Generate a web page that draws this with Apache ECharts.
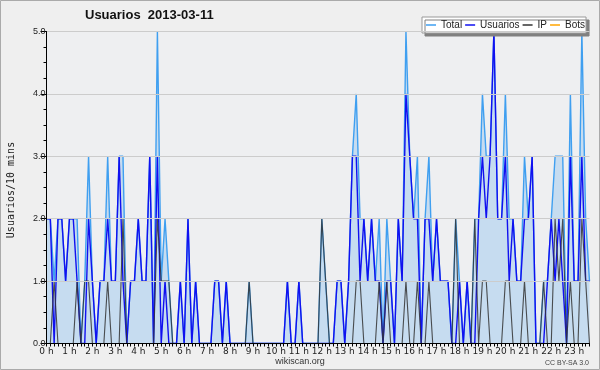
<!DOCTYPE html>
<html><head><meta charset="utf-8">
<script src="https://cdn.jsdelivr.net/npm/echarts@6/dist/echarts.min.js"></script>
<style>html,body{margin:0;padding:0;background:#efefef}#c{width:600px;height:370px}</style>
</head><body><div id="c"></div>
<script>
const hourLabels = ['0 h','1 h','2 h','3 h','4 h','5 h','6 h','7 h','8 h','9 h','10 h','11 h',
  '12 h','13 h','14 h','15 h','16 h','17 h','18 h','19 h','20 h','21 h','22 h','23 h'];
const yTicks = ['0.0','1.0','2.0','3.0','4.0','5.0'];
const seriesNames = ['Total','Usuarios','IP','Bots'];

const total = [
  2,2,1,2,2,1,2,2,2,0, 1,3,1,0,1,1,3,1,1,3, 3,0,1,1,2,1,1,3,0,5,
  1,2,1,0,0,1,0,2,0,1, 0,0,0,0,1,1,0,1,0,0, 0,0,0,1,0,0,0,0,0,0,
  0,0,0,1,0,0,1,0,0,0, 0,0,2,1,0,0,1,1,0,1, 3,4,2,2,1,2,1,2,0,2,
  1,0,2,1,5,3,2,3,0,2, 3,1,2,1,1,1,0,2,1,0, 1,0,2,2,4,3,3,5,2,2,
  4,2,2,1,1,3,2,3,0,0, 1,1,2,3,3,3,0,4,1,1, 5,2,1];
const usuarios = [
  2,2,0,2,2,1,2,2,1,0, 0,2,1,0,1,1,2,1,1,3, 1,0,1,1,2,1,1,3,0,3,
  0,1,0,0,0,1,0,2,0,1, 0,0,0,0,1,1,0,1,0,0, 0,0,0,0,0,0,0,0,0,0,
  0,0,0,1,0,0,1,0,0,0, 0,0,0,0,0,0,1,1,0,1, 3,3,1,2,1,2,1,1,0,1,
  1,0,2,1,4,3,2,2,0,2, 2,1,2,1,1,1,0,0,1,0, 1,0,0,2,3,2,3,5,2,2,
  3,1,2,1,1,2,2,3,0,0, 0,1,2,1,2,1,0,3,1,1, 3,1,1];
const ip = [
  0,0,1,0,0,0,0,0,1,0, 1,1,0,0,0,0,1,0,0,0, 2,0,0,0,0,0,0,0,0,2,
  1,1,1,0,0,0,0,0,0,0, 0,0,0,0,0,0,0,0,0,0, 0,0,0,1,0,0,0,0,0,0,
  0,0,0,0,0,0,0,0,0,0, 0,0,2,1,0,0,0,0,0,0, 0,1,1,0,0,0,0,1,0,1,
  0,0,0,0,1,0,0,1,0,0, 1,0,0,0,0,0,0,2,0,0, 0,0,2,0,1,1,0,0,0,0,
  1,1,0,0,0,1,0,0,0,0, 1,0,0,2,1,2,0,1,0,0, 2,1,0];
const bots = [
  0,0,0,0,0,0,0,0,0,0, 0,0,0,0,0,0,0,0,0,0, 0,0,0,0,0,0,0,0,0,0,
  0,0,0,0,0,0,0,0,0,0, 0,0,0,0,0,0,0,0,0,0, 0,0,0,0,0,0,0,0,0,0,
  0,0,0,0,0,0,0,0,0,0, 0,0,0,0,0,0,0,0,0,0, 0,0,0,0,0,0,0,0,0,0,
  0,0,0,0,0,0,0,0,0,0, 0,0,0,0,0,0,0,0,0,0, 0,0,0,0,0,0,0,0,0,0,
  0,0,0,0,0,0,0,0,0,0, 0,0,0,0,0,0,0,0,0,0, 0,0,0];

// 10-minute slots (categories)
const slots = [];
for (let k = 0; k < total.length; k++) {
  const h = Math.floor(k / 6), m = (k % 6) * 10;
  slots.push(h + ':' + (m < 10 ? '0' + m : m));
}

const chart = echarts.init(document.getElementById('c'), null, {renderer: 'canvas'});
chart.setOption({
  backgroundColor: '#efefef',
  animation: false,
  title: {
    text: 'Usuarios  2013-03-11', left: 85, top: 9, padding: 0,
    textStyle: {fontFamily: 'Liberation Sans', fontSize: 13, fontWeight: 'bold', color: '#111'}
  },
  legend: {
    data: seriesNames, left: 422, top: 17, orient: 'horizontal', icon: 'rect',
    itemWidth: 10, itemHeight: 1.5, itemGap: 3, padding: [2, 1, 2, 4],
    backgroundColor: '#ffffff', borderColor: '#999', borderWidth: 1,
    shadowColor: '#808080', shadowBlur: 0, shadowOffsetX: 3, shadowOffsetY: 3,
    textStyle: {fontFamily: 'Liberation Sans', fontSize: 10, color: '#222', lineHeight: 12}
  },
  grid: {left: 46.5, right: 10.5, top: 31.5, bottom: 26.5, show: true,
    backgroundColor: '#eeeff1', borderWidth: 0},
  xAxis: {
    type: 'category', data: slots, boundaryGap: false, z: 10,
    axisLine: {lineStyle: {color: '#000', width: 1}},
    axisTick: {interval: 0, length: 3, lineStyle: {color: '#000'}},
    axisLabel: {
      interval: (idx) => idx % 6 === 0,
      formatter: (v, idx) => hourLabels[idx / 6],
      fontFamily: 'DejaVu Sans', fontSize: 9, color: '#222', margin: 4
    },
    splitLine: {show: false}
  },
  yAxis: {
    type: 'value', min: 0, max: 5, interval: 1, z: 10,
    axisLine: {show: true, lineStyle: {color: '#000'}},
    axisTick: {show: true, length: 6, lineStyle: {color: '#000'}},
    minorTick: {show: true, splitNumber: 4, length: 3, lineStyle: {color: '#000'}},
    axisLabel: {formatter: (v) => yTicks[Math.round(v)], fontFamily: 'Liberation Sans',
      fontSize: 9, color: '#222', margin: 1},
    splitLine: {show: true, lineStyle: {color: '#cccccc', width: 1}}
  },
  series: [
    {name: 'Total', type: 'line', data: total, symbol: 'none', z: 2,
      lineStyle: {color: '#3f9ff0', width: 1.4}, itemStyle: {color: '#3f9ff0'},
      areaStyle: {color: '#c6dcf0', opacity: 1}},
    {name: 'Usuarios', type: 'line', data: usuarios, symbol: 'none', z: 3,
      lineStyle: {color: '#1010f0', width: 1.4}, itemStyle: {color: '#1010f0'}},
    {name: 'IP', type: 'line', data: ip, symbol: 'none', z: 4,
      lineStyle: {color: '#333333', width: 1.1, opacity: 0.85}, itemStyle: {color: '#333333'}},
    {name: 'Bots', type: 'line', data: bots, symbol: 'none', z: 1,
      lineStyle: {color: '#ffa500', width: 1.2}, itemStyle: {color: '#ffa500'}}
  ],
  graphic: [
    {type: 'rect', silent: true, shape: {x: 0.5, y: 0.5, width: 599, height: 369},
      style: {fill: 'none', stroke: '#aaaaaa', lineWidth: 1}},
    {type: 'text', x: 11, y: 190, rotation: Math.PI / 2,
      style: {text: 'Usuarios/10 mins', font: '10px "DejaVu Sans Mono"', fill: '#222',
        align: 'center', verticalAlign: 'middle'}},
    {type: 'text', x: 300, y: 362,
      style: {text: 'wikiscan.org', font: '9px "Liberation Sans"', fill: '#333',
        align: 'center', verticalAlign: 'middle'}},
    {type: 'text', x: 589, y: 363,
      style: {text: 'CC BY-SA 3.0', font: '7px "Liberation Sans"', fill: '#444',
        align: 'right', verticalAlign: 'middle'}}
  ]
});
</script></body></html>
